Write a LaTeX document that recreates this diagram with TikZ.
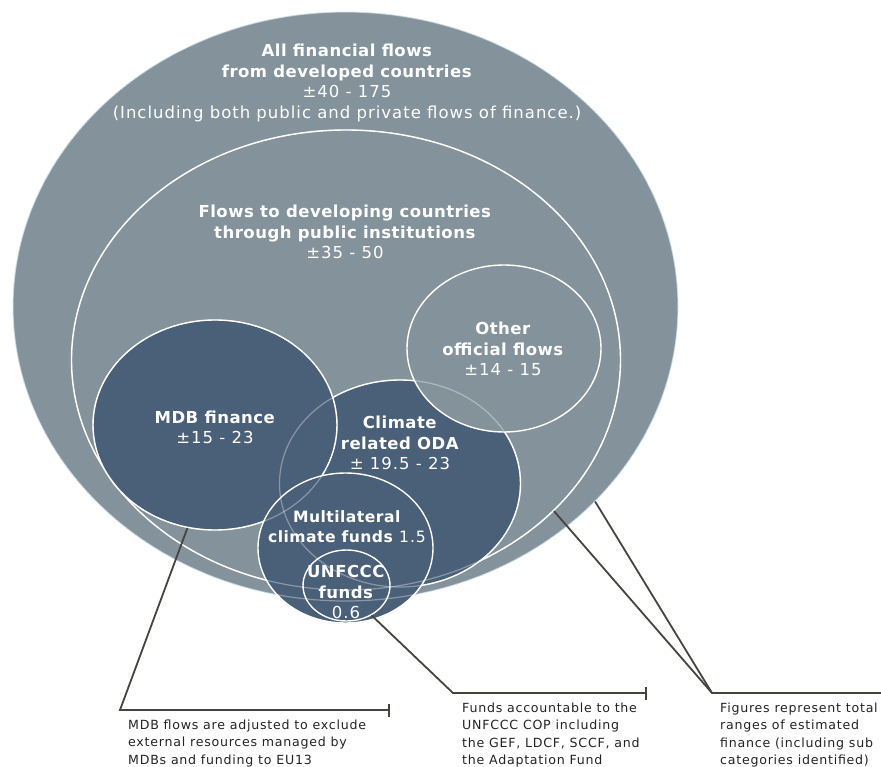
\documentclass[tikz,border=0pt]{standalone}
\usepackage{fontspec}
\setmainfont{DejaVu Sans}[LetterSpace=6, BoldFeatures={LetterSpace=3}]
\usetikzlibrary{positioning}
\usetikzlibrary{shapes, arrows, arrows.meta}
\definecolor{flowgray}{RGB}{132,147,155}
\definecolor{flowblue}{RGB}{74,95,120}
\definecolor{rimblue}{RGB}{165,200,235}
\definecolor{leadgray}{RGB}{72,67,63}
\definecolor{notegray}{RGB}{35,35,35}

\begin{document}
\begin{tikzpicture}[x=1pt, y=-1pt, auto]
    \tikzstyle{zone} = [ellipse, draw=white, line width=1.4pt, inner sep=0pt]
    \tikzstyle{light} = [zone, fill=flowgray]
    \tikzstyle{dark} = [zone, fill=flowblue]
    \tikzstyle{ghost} = [ellipse, draw=white, draw opacity=0.35, line width=1.2pt, inner sep=0pt]
    \tikzstyle{label} = [text=white, align=center, inner sep=0pt, font=\fontsize{16.5}{20.5}\selectfont]
    \tikzstyle{note} = [text=notegray, align=left, anchor=north west, inner sep=0pt, font=\fontsize{12.6}{17.2}\selectfont]
    \tikzstyle{lead} = [draw=leadgray, line width=1.8pt]
    \tikzstyle{barend} = [-{Bar[width=13pt, line width=2.4pt]}]
    \useasboundingbox (0,0) rectangle (881,767);
    \node [light, draw=rimblue, densely dotted, line width=0.7pt, minimum width=665pt, minimum height=589pt] (allflows) at (345.5,306.5) {};
    \node [light, minimum width=549pt, minimum height=460pt] (public) at (346,360) {};
    \node [dark, minimum width=241pt, minimum height=207pt] (oda) at (400,483.5) {};
    \node [light, minimum width=194pt, minimum height=167pt] (other) at (504,348.5) {};
    \node [dark, minimum width=244pt, minimum height=210pt] (mdb) at (215,425) {};
    \node [dark, minimum width=175pt, minimum height=150pt] (multi) at (345.5,548) {};
    \node [dark, minimum width=87pt, minimum height=71pt] (unfccc) at (346.5,585.5) {};
    \node [ghost, minimum width=665pt, minimum height=589pt] (allflowsrim) at (345.5,306.5) {};
    \node [ghost, minimum width=549pt, minimum height=460pt] (publicrim) at (346,360) {};
    \node [ghost, minimum width=241pt, minimum height=207pt] (odarim) at (400,483.5) {};
    \node [ghost, minimum width=244pt, minimum height=210pt] (mdbrim) at (215,425) {};

    \node [label] (alltext) at (347,83) {\textbf{All financial flows}\\\textbf{from developed countries}\\±40 - 175\\(Including both public and private flows of finance.)};
    \node [label] (publictext) at (345,232) {\textbf{Flows to developing countries}\\\textbf{through public institutions}\\±35 - 50};
    \node [label] (othertext) at (503,349) {\textbf{Other}\\\textbf{official flows}\\±14 - 15};
    \node [label] (mdbtext) at (215,427.5) {\textbf{MDB finance}\\±15 - 23};
    \node [label] (odatext) at (400,443) {\textbf{Climate}\\\textbf{related ODA}\\± 19.5 - 23};
    \node [label, font=\fontsize{15.6}{20}\selectfont] (multitext) at (347,527) {\textbf{Multilateral}\\\textbf{climate funds} 1.5};
    \node [label] (unfccctext) at (346,592) {\textbf{UNFCCC}\\\textbf{funds}\\0.6};

    \coordinate (mdbbend) at (120,710);
    \coordinate (mdbstop) at (390,710);
    \coordinate (unfcccbend) at (453,693);
    \coordinate (unfcccstop) at (647,693);
    \coordinate (rangebend) at (712,693);
    \coordinate (rangestop) at (881,693);
    \path [lead, barend] (mdb.255) -- (mdbbend) -- (mdbstop);
    \path [lead, barend] (unfccc.310) -- (unfcccbend) -- (unfcccstop);
    \path [lead] (public.324) -- (rangebend) -- (rangestop);
    \path [lead] (allflows.322) -- (rangebend);

    \node [note] (mdbnote) at (128,720) {MDB flows are adjusted to exclude\\external resources managed by\\MDBs and funding to EU13};
    \node [note] (unfcccnote) at (462,703) {Funds accountable to the\\UNFCCC COP including\\the GEF, LDCF, SCCF, and\\the Adaptation Fund};
    \node [note] (rangenote) at (720,703) {Figures represent total\\ranges of estimated\\finance (including sub\\categories identified)};
\end{tikzpicture}
\end{document}
